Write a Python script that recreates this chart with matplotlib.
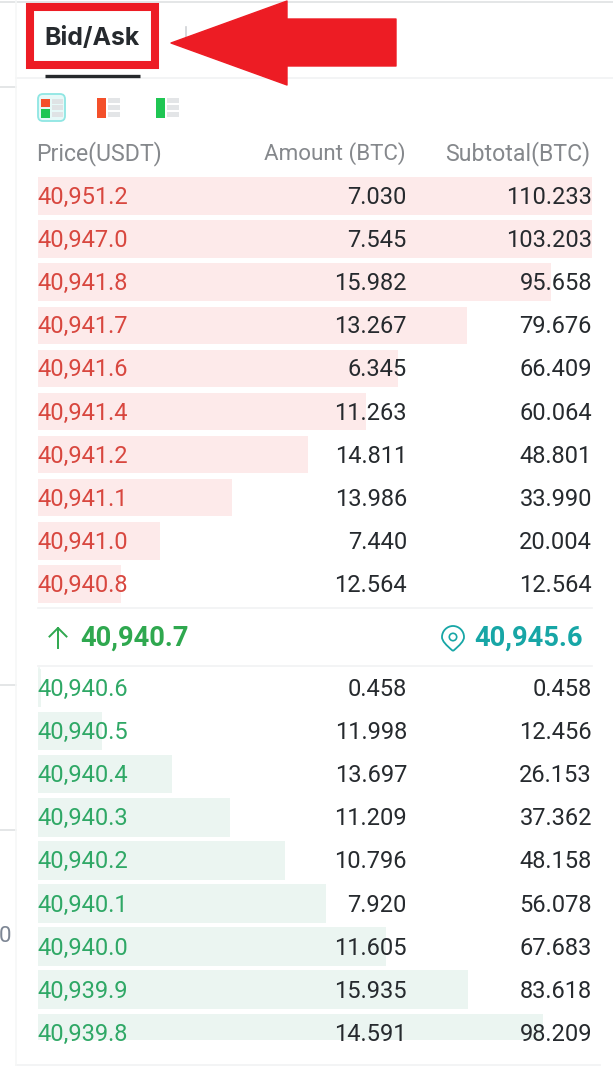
import matplotlib
matplotlib.use("Agg")
import matplotlib.pyplot as plt
from matplotlib.patches import Rectangle, Polygon, FancyBboxPatch, Circle, PathPatch
from matplotlib.path import Path

plt.rcParams['font.family'] = ['Roboto', 'DejaVu Sans']

ask_prices = ["40,951.2", "40,947.0", "40,941.8", "40,941.7", "40,941.6",
              "40,941.4", "40,941.2", "40,941.1", "40,941.0", "40,940.8"]
ask_amounts = ["7.030", "7.545", "15.982", "13.267", "6.345",
               "11.263", "14.811", "13.986", "7.440", "12.564"]
ask_totals = ["110.233", "103.203", "95.658", "79.676", "66.409",
              "60.064", "48.801", "33.990", "20.004", "12.564"]
ask_depth = [100, 100, 92.6, 77.4, 65.0, 59.2, 48.7, 35.0, 22.0, 15.0]

bid_prices = ["40,940.6", "40,940.5", "40,940.4", "40,940.3", "40,940.2",
              "40,940.1", "40,940.0", "40,939.9", "40,939.8"]
bid_amounts = ["0.458", "11.998", "13.697", "11.209", "10.796",
               "7.920", "11.605", "15.935", "14.591"]
bid_totals = ["0.458", "12.456", "26.153", "37.362", "48.158",
              "56.078", "67.683", "83.618", "98.209"]
bid_depth = [0.5, 11.6, 24.2, 34.6, 44.6, 52.0, 62.8, 77.6, 91.2]

headers = ["Price(USDT)", "Amount (BTC)", "Subtotal(BTC)"]
tab_label = "Bid/Ask"
last_price = "40,940.7"
mark_price = "40,945.6"

RED_TXT, GRN_TXT, TEAL, DARK, GREY = "#d8473f", "#2fa866", "#17a6a6", "#262a2e", "#85888c"
RED_BAR, GRN_BAR, LINE, ANNOT = "#fdeaea", "#ebf5f1", "#f1f2f3", "#ed1c24"
FS = 17.0

fig = plt.figure(figsize=(6.13, 10.74), dpi=100, facecolor="white")
W, H = 613, 1074

# table axes: x is depth in percent, y is row position
L, R, T, B = 38, 592, 175, 1040
tb = fig.add_axes([L / W, 1 - B / H, (R - L) / W, (B - T) / H], zorder=1)
tb.set_xlim(0, 100); tb.set_ylim(B, T); tb.axis("off")

# overlay in pixel coordinates for the page furniture and text
ax = fig.add_axes([0, 0, 1, 1], zorder=2)
ax.set_xlim(0, W); ax.set_ylim(H, 0); ax.axis("off")

ROW = 43.1
ask_y = [196 + ROW * i for i in range(len(ask_prices))]
bid_y = [688 + ROW * i for i in range(len(bid_prices))]
tb.barh(ask_y, ask_depth, height=37.5, left=0, color=RED_BAR, linewidth=0)
tb.barh(bid_y, bid_depth, height=38.5, left=0, color=GRN_BAR, linewidth=0)

clip = Rectangle((0, 0), W, B, transform=ax.transData)

def row(y, price, amount, total, colour):
    for x, s, ha, c in ((37.3, price, "left", colour), (407, amount, "right", DARK), (592, total, "right", DARK)):
        t = ax.text(x, y + 1.5, s, ha=ha, va="center", fontsize=FS, color=c, zorder=5)
        t.set_clip_path(clip)

for y, p, a, s in zip(ask_y, ask_prices, ask_amounts, ask_totals):
    row(y, p, a, s, RED_TXT)
for y, p, a, s in zip(bid_y, bid_prices, bid_amounts, bid_totals):
    row(y, p, a, s, GRN_TXT)

# headers
ax.text(36.5, 153.5, headers[0], ha="left", va="center", fontsize=16.7, color=GREY)
ax.text(405.5, 153.5, headers[1], ha="right", va="center", fontsize=16.1, color=GREY)
ax.text(590, 153.5, headers[2], ha="right", va="center", fontsize=16.7, color=GREY)

# page lines
for xs, y in (((16, 613), 78), ((38, 592), 608), ((38, 592), 666), ((16, 600), 1065),
              ((0, 613), 2), ((0, 16), 87), ((0, 16), 685), ((0, 16), 830)):
    ax.plot(xs, (y, y), color=LINE if xs[0] else "#dfe1e3", lw=1.2, zorder=1)
ax.plot((16, 16), (0, 1065), color="#f6f7f7", lw=1.2, zorder=1)
ax.plot((38.5, 38.5), (668, 706), color=GRN_BAR, lw=1.2, zorder=1)
ax.text(-1, 936, "0", ha="left", va="center", fontsize=FS - 1, color="#7d8694")

# tab
ax.text(44.5, 38.5, tab_label, ha="left", va="center", fontsize=17.9, fontweight="bold",
        family=["Inter", "DejaVu Sans"], color=DARK, zorder=6)
ax.plot((45, 140), (75.5, 75.5), color="#26292c", lw=2.4, solid_capstyle="butt", zorder=6)
ax.plot((186, 186), (27, 40), color="#cfd2d5", lw=1.2, zorder=2)

# annotation box and arrow
ax.add_patch(Rectangle((30, 7), 125, 58, fill=False, ec=ANNOT, lw=5.8, zorder=7))
ax.add_patch(Polygon([(171, 43), (287, 1), (287, 19), (396, 19), (396, 66), (287, 66), (287, 85)],
                     closed=True, fc=ANNOT, ec=ANNOT, lw=1, joinstyle="round", zorder=7))

# view toggle icons
ax.add_patch(FancyBboxPatch((38, 94), 27, 27, boxstyle="round,pad=0,rounding_size=5",
                            fc="#e6f9f8", ec="#8fe6e3", lw=1.3, zorder=3))
ax.add_patch(Rectangle((41, 98.5), 8.5, 8.5, fc="#f4502a", lw=0, zorder=4))
ax.add_patch(Rectangle((41, 109), 8.5, 8.5, fc="#1fc653", lw=0, zorder=4))
for i in range(3):
    ax.add_patch(Rectangle((51.5, 98.5 + 6.7 * i), 11, 5, fc="#dfe3e5", lw=0, zorder=4))
for x0, c in ((97, "#f4502a"), (155.5, "#1fc653")):
    ax.add_patch(Rectangle((x0, 98), 9, 19.5, fc=c, lw=0, zorder=4))
    for i in range(3):
        ax.add_patch(Rectangle((x0 + 11, 98 + 7.2 * i), 12, 5, fc="#e3e5e7", lw=0, zorder=4))

# price row
ax.text(80, 638, last_price, ha="left", va="center", fontsize=19.7, fontweight="bold", color="#2fa84f", zorder=5)
ax.text(583, 638, mark_price, ha="right", va="center", fontsize=19.7, fontweight="bold", color=TEAL, zorder=5)
ax.plot((58, 58), (648, 628), color="#2fa84f", lw=1.4, zorder=5)
ax.plot((49.5, 58, 66.5), (636.5, 628, 636.5), color="#2fa84f", lw=1.4, zorder=5)

verts = [(453, 651), (446, 645), (442, 641), (442, 637), (442, 631), (447, 626), (453, 626),
         (459, 626), (464, 631), (464, 637), (464, 641), (460, 645), (453, 651)]
codes = [Path.MOVETO] + [Path.CURVE4] * 12
ax.add_patch(PathPatch(Path(verts, codes), fc="none", ec=TEAL, lw=1.3, zorder=5))
ax.add_patch(Circle((453, 637), 3.7, fc="none", ec=TEAL, lw=1.2, zorder=5))

fig.savefig("out.png", dpi=100, facecolor="white")
